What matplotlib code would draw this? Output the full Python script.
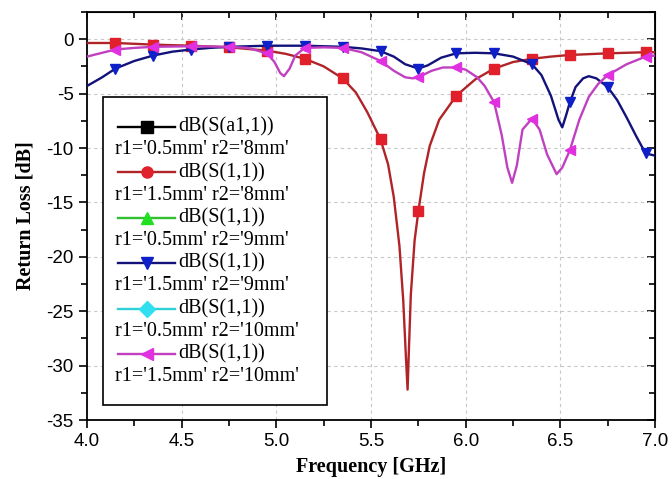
#!/usr/bin/env python3
"""Return loss vs frequency for the r1/r2 parameter sweep."""

import matplotlib

matplotlib.use("Agg")
import matplotlib.pyplot as plt
import numpy as np
from matplotlib.lines import Line2D
from matplotlib.patches import Rectangle
from matplotlib.ticker import MultipleLocator, NullFormatter

# marker positions used by every trace (GHz)
MARKER_FREQS = [4.15 + 0.2 * k for k in range(15)]

# r1=1.5mm r2=8mm
freq_15_8 = [4.00, 4.15, 4.35, 4.55, 4.75, 4.95, 5.05, 5.15, 5.25, 5.35, 5.42, 5.48,
             5.55, 5.59, 5.62, 5.65, 5.67, 5.685, 5.693, 5.70, 5.71, 5.73, 5.75, 5.78,
             5.81, 5.86, 5.95, 6.05, 6.15, 6.25, 6.35, 6.45, 6.55, 6.75, 6.95, 7.00]
db_15_8 = [-0.35, -0.35, -0.5, -0.6, -0.75, -1.05, -1.35, -1.8, -2.5, -3.6, -4.9, -6.7,
           -9.2, -11.5, -14.5, -19.0, -24.0, -29.5, -32.2, -28.5, -23.5, -18.5, -15.8, -12.3,
           -9.8, -7.4, -5.2, -3.7, -2.7, -2.1, -1.8, -1.6, -1.45, -1.3, -1.2, -1.2]

# r1=1.5mm r2=9mm
freq_15_9 = [4.00, 4.08, 4.15, 4.25, 4.35, 4.45, 4.55, 4.65, 4.75, 4.95, 5.15, 5.35,
             5.45, 5.55, 5.62, 5.68, 5.75, 5.80, 5.87, 5.95, 6.05, 6.15, 6.25, 6.35,
             6.40, 6.45, 6.49, 6.51, 6.53, 6.55, 6.58, 6.62, 6.65, 6.69, 6.75, 6.80,
             6.85, 6.90, 6.95, 7.00]
db_15_9 = [-4.3, -3.5, -2.7, -2.0, -1.5, -1.15, -0.95, -0.8, -0.7, -0.6, -0.6, -0.7,
           -0.85, -1.1, -1.6, -2.3, -2.7, -2.4, -1.7, -1.3, -1.25, -1.3, -1.6, -2.3,
           -3.3, -5.2, -7.4, -8.1, -7.0, -5.8, -4.4, -3.6, -3.4, -3.6, -4.4, -5.6,
           -7.2, -8.9, -10.5, -10.7]

# r1=1.5mm r2=10mm
freq_15_10 = [4.00, 4.08, 4.15, 4.25, 4.35, 4.55, 4.75, 4.85, 4.95, 4.99, 5.02, 5.04,
              5.07, 5.10, 5.15, 5.25, 5.35, 5.45, 5.55, 5.62, 5.68, 5.72, 5.75, 5.82,
              5.88, 5.95, 6.00, 6.06, 6.10, 6.15, 6.19, 6.22, 6.245, 6.27, 6.30, 6.35,
              6.39, 6.43, 6.48, 6.51, 6.55, 6.60, 6.65, 6.70, 6.75, 6.85, 6.95, 7.00]
db_15_10 = [-1.6, -1.25, -0.95, -0.8, -0.7, -0.65, -0.7, -0.8, -1.3, -2.1, -3.1, -3.4,
            -2.7, -1.5, -0.8, -0.75, -0.8, -1.2, -2.0, -2.9, -3.5, -3.6, -3.5, -2.9,
            -2.6, -2.6, -2.8, -3.5, -4.3, -5.8, -8.8, -11.8, -13.2, -11.6, -8.3, -7.3,
            -8.3, -10.6, -12.4, -11.8, -10.2, -7.4, -5.3, -4.1, -3.3, -2.3, -1.6, -1.5]

# the r1=0.5mm traces are not visible in the figure (hidden under the others),
# so they only show up in the legend
TITLES = ["dB(S(a1,1))", "dB(S(1,1))", "dB(S(1,1))", "dB(S(1,1))", "dB(S(1,1))", "dB(S(1,1))"]
PARAMS = ["r1='0.5mm' r2='8mm'", "r1='1.5mm' r2='8mm'", "r1='0.5mm' r2='9mm'",
          "r1='1.5mm' r2='9mm'", "r1='0.5mm' r2='10mm'", "r1='1.5mm' r2='10mm'"]

SERIF = "Liberation Serif"
SANS = "Liberation Sans"


def marker_idx(freqs):
    f = np.asarray(freqs)
    return [int(np.argmin(np.abs(f - m))) for m in MARKER_FREQS if np.min(np.abs(f - m)) < 1e-6]


def main() -> None:
    fig = plt.figure(figsize=(6.72, 4.79), dpi=100)
    ax = fig.add_axes([0.1295, 0.123, 0.8453, 0.852])

    # (freq, dB, line colour, marker colour, plot marker, legend marker)
    series = [
        (None, None, "black", "black", "s", "s"),
        (freq_15_8, db_15_8, "#b02428", "#e0202a", "s", "o"),
        (None, None, "#30c030", "#20e020", "^", "^"),
        (freq_15_9, db_15_9, "#12127a", "#1020c8", "v", "v"),
        (None, None, "#30d0d8", "#30e0f0", "D", "D"),
        (freq_15_10, db_15_10, "#c040c0", "#e030e0", "<", "<"),
    ]
    for f, d, lc, mc, mk, _ in series:
        if f is None:
            continue
        ax.plot(f, d, color=lc, lw=1.7, marker=mk, ms=6.5, mfc=mc, mec=mc,
                markevery=marker_idx(f), zorder=3)

    ax.set_xlim(4.0, 7.0)
    ax.set_ylim(-35, 2.5)
    ax.set_xticks(np.arange(4.0, 7.01, 0.5))
    ax.set_yticks(np.arange(-35, 0.1, 5))
    ax.xaxis.set_minor_locator(MultipleLocator(0.25))
    ax.yaxis.set_minor_locator(MultipleLocator(2.5))
    ax.set_xticklabels([f"{v:.1f}" for v in np.arange(4.0, 7.01, 0.5)])
    ax.set_yticklabels([f"{v:d}" for v in range(-35, 1, 5)])
    ax.tick_params(which="both", direction="out", width=1.2, labelsize=13.5, top=False, right=False)
    ax.tick_params(which="major", length=6)
    ax.tick_params(which="minor", length=4)
    for lab in ax.get_xticklabels() + ax.get_yticklabels():
        lab.set_fontfamily(SANS)
    ax.grid(True, which="major", color="#c8c8c8", ls=(0, (3, 3)), lw=0.8)
    for sp in ax.spines.values():
        sp.set_linewidth(1.3)

    # inward ticks on top and right
    top = ax.secondary_xaxis("top")
    top.set_xticks(np.arange(4.0, 7.01, 0.5))
    top.xaxis.set_minor_locator(MultipleLocator(0.25))
    top.xaxis.set_major_formatter(NullFormatter())
    top.tick_params(which="both", direction="in", width=1.2)
    top.tick_params(which="major", length=6)
    top.tick_params(which="minor", length=4)
    right = ax.secondary_yaxis("right")
    right.set_yticks(np.arange(-35, 0.1, 5))
    right.yaxis.set_minor_locator(MultipleLocator(2.5))
    right.yaxis.set_major_formatter(NullFormatter())
    right.tick_params(which="both", direction="in", width=1.2)
    right.tick_params(which="major", length=6)
    right.tick_params(which="minor", length=4)

    ax.set_xlabel("Frequency [GHz]", family=SERIF, fontweight="bold", fontsize=14.5, labelpad=5)
    ax.set_ylabel("Return Loss [dB]", family=SERIF, fontweight="bold", fontsize=14.5, labelpad=8)

    # two-line legend entries, drawn by hand
    box = Rectangle((0.028, 0.037), 0.3945, 0.755, transform=ax.transAxes,
                    facecolor="white", edgecolor="black", lw=1.2, zorder=5)
    ax.add_patch(box)
    y0 = 0.718
    step = 0.0556
    for k, (_, _, lc, mc, _, lmk) in enumerate(series):
        yt = y0 - 2 * k * step
        ax.add_line(Line2D([0.055, 0.155], [yt, yt], transform=ax.transAxes, color=lc,
                           lw=1.7, zorder=6))
        ax.add_line(Line2D([0.106], [yt], transform=ax.transAxes, marker=lmk, ms=8,
                           mfc=mc, mec=mc, zorder=7))
        ax.text(0.160, yt, TITLES[k], transform=ax.transAxes, family=SERIF, fontsize=14.5,
                va="center", ha="left", zorder=7)
        ax.text(0.049, yt - step, PARAMS[k], transform=ax.transAxes, family=SERIF,
                fontsize=14.5, va="center", ha="left", zorder=7)

    fig.savefig("out.png", dpi=100)
    plt.close(fig)


if __name__ == "__main__":
    main()
